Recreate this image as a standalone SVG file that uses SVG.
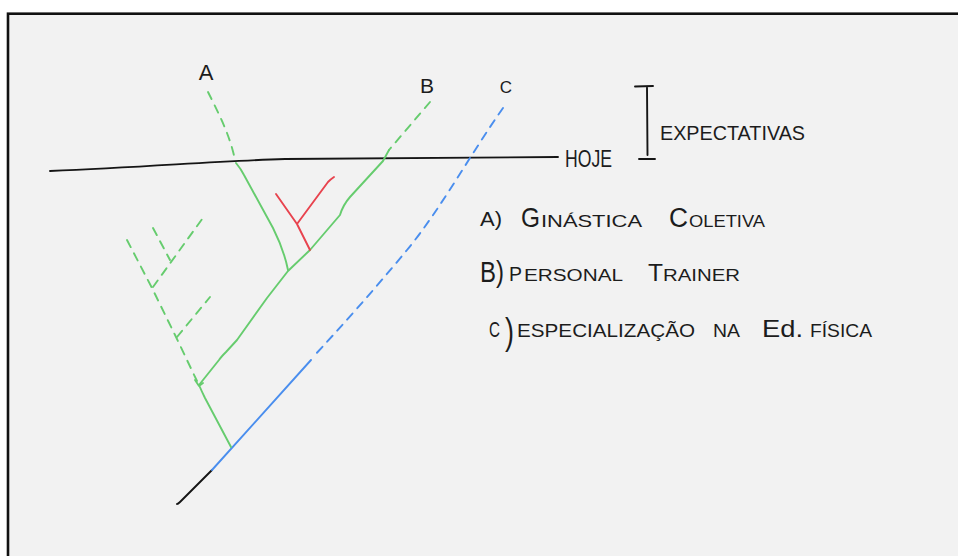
<svg xmlns="http://www.w3.org/2000/svg" width="958" height="556" viewBox="0 0 958 556">
<style>
.ln{fill:none;stroke-linecap:round;stroke-linejoin:round;stroke-width:1.9}
.g{stroke:#66cc6e}
.b{stroke:#4a8eee}
.r{stroke:#e8434e}
.k{stroke:#151515}
.d{stroke-dasharray:8 7}
.t{font-family:"Liberation Sans","DejaVu Sans",sans-serif;fill:#1c1c1c}
</style>
<rect x="0" y="0" width="958" height="556" fill="#ffffff"/>
<rect id="paper" x="8" y="13.7" width="1000" height="600" fill="#f2f2f2" stroke="#111111" stroke-width="2.6"/>

<g id="connectors">
  <path id="hoje-line" class="ln k" d="M50,171 C150,167 215,161 285,159 L558,157"/>
  <path class="ln k" d="M212,470 L180,502 Q178,504 177,504"/>
  <path class="ln b" d="M311,360 L212,470"/>
  <path class="ln b d" d="M503,108 C470,155 440,210 407,250 S340,328 313,357"/>
  <path class="ln g d" d="M208,92 C218,112 230,135 235,160"/>
  <path class="ln g" d="M236,163 Q241,169 244,175 L273,228 Q284,250 288,270"/>
  <path class="ln g d" d="M430,102 L389,150"/>
  <path class="ln g" d="M389,150 L383,161 L350,197 Q343,205 340,215 L310,250 L288,271 L267,298 L237,340 L226,352 Q221,357 219,360 L199,385"/>
  <path class="ln g" d="M195,380 L199,386 L203,383 M199,385 Q202,392 205,398 L231,447"/>
  <path class="ln r" d="M276,194 L297,224 L310,250 M297,224 L328,182 Q331,179 334,177"/>
  <path class="ln g d" d="M127,240 L152,288 L176,337 L197,381"/>
  <path class="ln g d" d="M153,287 L205,215"/>
  <path class="ln g d" d="M153,228 L170,260"/>
  <path class="ln g d" d="M177,337 L210,297"/>
</g>

<g id="expectativas">
  <path class="ln k" d="M635,86.5 L653,86 M647,87 L647.5,155 M639,159 L655,159"/>
  <text class="t" x="660" y="140" font-size="20" textLength="145" lengthAdjust="spacingAndGlyphs">EXPECTATIVAS</text>
</g>
<g id="hoje"><text class="t" x="565" y="167" font-size="24" textLength="47" lengthAdjust="spacingAndGlyphs">HOJE</text></g>

<g id="label-a"><text class="t" x="206" y="80" font-size="22" text-anchor="middle">A</text></g>
<g id="label-b"><text class="t" x="427" y="93" font-size="21" text-anchor="middle">B</text></g>
<g id="label-c"><text class="t" x="506" y="93" font-size="17" text-anchor="middle">C</text></g>

<g id="legend-a">
  <text class="t" x="480" y="226" font-size="21" textLength="22" lengthAdjust="spacingAndGlyphs">A)</text>
  <text class="t" x="521" y="227" font-size="28" textLength="19" lengthAdjust="spacingAndGlyphs">G</text>
  <text class="t" x="541" y="227" font-size="17" textLength="101" lengthAdjust="spacingAndGlyphs">INÁSTICA</text>
  <text class="t" x="669" y="227" font-size="27" textLength="19" lengthAdjust="spacingAndGlyphs">C</text>
  <text class="t" x="689" y="227" font-size="17" textLength="76" lengthAdjust="spacingAndGlyphs">OLETIVA</text>
</g>
<g id="legend-b">
  <text class="t" x="480" y="282" font-size="30" textLength="24" lengthAdjust="spacingAndGlyphs">B)</text>
  <text class="t" x="509" y="281" font-size="20" textLength="13" lengthAdjust="spacingAndGlyphs">P</text>
  <text class="t" x="524" y="281" font-size="16" textLength="99" lengthAdjust="spacingAndGlyphs">ERSONAL</text>
  <text class="t" x="648" y="281" font-size="24" textLength="15" lengthAdjust="spacingAndGlyphs">T</text>
  <text class="t" x="663" y="281" font-size="16" textLength="77" lengthAdjust="spacingAndGlyphs">RAINER</text>
</g>
<g id="legend-c">
  <text class="t" x="489" y="337" font-size="22" textLength="11" lengthAdjust="spacingAndGlyphs">C</text>
  <text class="t" x="505" y="344" font-size="36" textLength="9" lengthAdjust="spacingAndGlyphs">)</text>
  <text class="t" x="517" y="337" font-size="18" textLength="178" lengthAdjust="spacingAndGlyphs">ESPECIALIZAÇÃO</text>
  <text class="t" x="713" y="337" font-size="18" textLength="27" lengthAdjust="spacingAndGlyphs">NA</text>
  <text class="t" x="762" y="337" font-size="24" textLength="41" lengthAdjust="spacingAndGlyphs">Ed.</text>
  <text class="t" x="810" y="337" font-size="18" textLength="62" lengthAdjust="spacingAndGlyphs">FÍSICA</text>
</g>
</svg>
